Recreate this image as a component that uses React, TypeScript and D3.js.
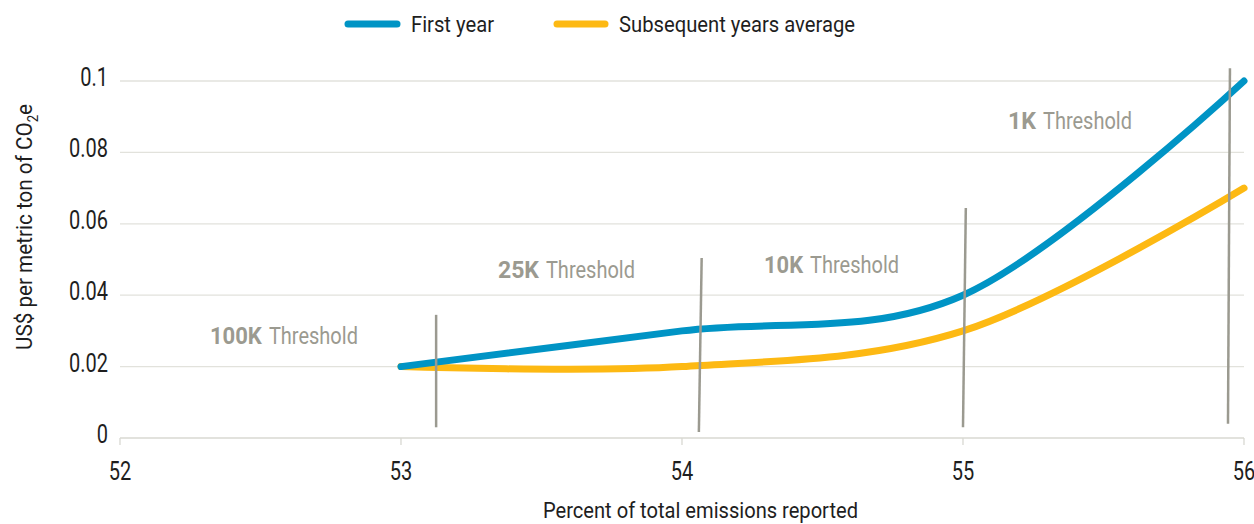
import React from "react";
import * as d3 from "d3";

const xTicks = [52, 53, 54, 55, 56];
const yTicks = [0, 0.02, 0.04, 0.06, 0.08, 0.1];
const xValues = [53, 54, 55, 56];
const firstYear = [0.02, 0.03, 0.04, 0.1];
const subsequentYears = [0.02, 0.02, 0.03, 0.07];
const thresholdNames = ["100K", "25K", "10K", "1K"];
// threshold marker lines: [xTop, yTop, xBottom, yBottom] in data units
const thresholdLines = [
  [53.125, 0.0345, 53.125, 0.003],
  [54.07, 0.0504, 54.06, 0.0017],
  [55.01, 0.0644, 55.0, 0.003],
  [55.95, 0.1036, 55.943, 0.004],
];
// label anchors (data units, left/baseline)
const thresholdLabelPos = [
  [52.32, 0.0263],
  [53.345, 0.0448],
  [54.292, 0.0462],
  [55.16, 0.0866],
];

const W = 1254;
const H = 524;
const FONT = "Roboto, 'Liberation Sans', sans-serif";
const BLUE = "#0094c5";
const YELLOW = "#fdb913";
const GRAY = "#9b9a90";
const TEXT = "#1e1e1e";
const TICK_SX = 0.8;
const BOLD_W = [52, 41, 39, 28];
const WORD_W = 89;
const GAP = 7;

export default function App() {
  const x = d3.scaleLinear().domain([52, 56]).range([120, 1244]);
  const y = d3.scaleLinear().domain([0, 0.1]).range([438, 81]);
  const line = d3
    .line<number>()
    .x((_, i) => x(xValues[i]))
    .y((d) => y(d))
    .curve(d3.curveCatmullRom.alpha(0));

  return (
    <svg width={W} height={H} style={{ position: "absolute", left: 0, top: 0, fontFamily: FONT }}>
      <rect width={W} height={H} fill="#fff" />
      {yTicks.map((t) => (
        <line key={t} x1={120} x2={1244} y1={y(t)} y2={y(t)} stroke={t === 0 ? "#d8d8d2" : "#e2e2dc"} strokeWidth={1.3} />
      ))}
      {xTicks.map((t) => (
        <g key={t}>
          <line x1={x(t)} x2={x(t)} y1={438} y2={445} stroke="#d8d8d2" strokeWidth={1.3} />
          <g transform={`translate(${x(t)},480) scale(${TICK_SX},1)`}>
            <text textAnchor="middle" fontSize={25} fill={TEXT}>
              {t}
            </text>
          </g>
        </g>
      ))}
      {yTicks.map((t) => (
        <g key={t} transform={`translate(108,${y(t) + 5}) scale(${TICK_SX},1)`}>
          <text textAnchor="end" fontSize={25} fill={TEXT}>
            {t}
          </text>
        </g>
      ))}
      <text x={543} y={518} fontSize={22} fill={TEXT} textLength={315} lengthAdjust="spacingAndGlyphs">
        Percent of total emissions reported
      </text>
      <text
        transform={`translate(32, 350) rotate(-90)`}
        fontSize={22}
        fill={TEXT}
        textLength={246}
        lengthAdjust="spacingAndGlyphs"
      >
        US$ per metric ton of CO
        <tspan fontSize={14} dy={6}>2</tspan>
        <tspan dy={-6}>e</tspan>
      </text>
      <path d={line(subsequentYears) || ""} fill="none" stroke={YELLOW} strokeWidth={7} strokeLinecap="round" />
      <path d={line(firstYear) || ""} fill="none" stroke={BLUE} strokeWidth={7} strokeLinecap="round" />
      {thresholdLines.map((l, i) => (
        <line key={i} x1={x(l[0])} y1={y(l[1])} x2={x(l[2])} y2={y(l[3])} stroke={GRAY} strokeWidth={2.5} />
      ))}
      {thresholdNames.map((n, i) => {
        const lx = x(thresholdLabelPos[i][0]);
        const ly = y(thresholdLabelPos[i][1]);
        return (
          <g key={n}>
            <text
              x={lx}
              y={ly}
              fontSize={24}
              fontWeight="bold"
              fill={GRAY}
              textLength={BOLD_W[i]}
              lengthAdjust="spacingAndGlyphs"
            >
              {n}
            </text>
            <text
              x={lx + BOLD_W[i] + GAP}
              y={ly}
              fontSize={24}
              fill={GRAY}
              textLength={WORD_W}
              lengthAdjust="spacingAndGlyphs"
            >
              Threshold
            </text>
          </g>
        );
      })}
      <line x1={348} x2={397} y1={24} y2={24} stroke={BLUE} strokeWidth={7} strokeLinecap="round" />
      <text x={411} y={32} fontSize={22} fill={TEXT} textLength={83} lengthAdjust="spacingAndGlyphs">
        First year
      </text>
      <line x1={557} x2={605} y1={24} y2={24} stroke={YELLOW} strokeWidth={7} strokeLinecap="round" />
      <text x={619} y={32} fontSize={22} fill={TEXT} textLength={236} lengthAdjust="spacingAndGlyphs">
        Subsequent years average
      </text>
    </svg>
  );
}
